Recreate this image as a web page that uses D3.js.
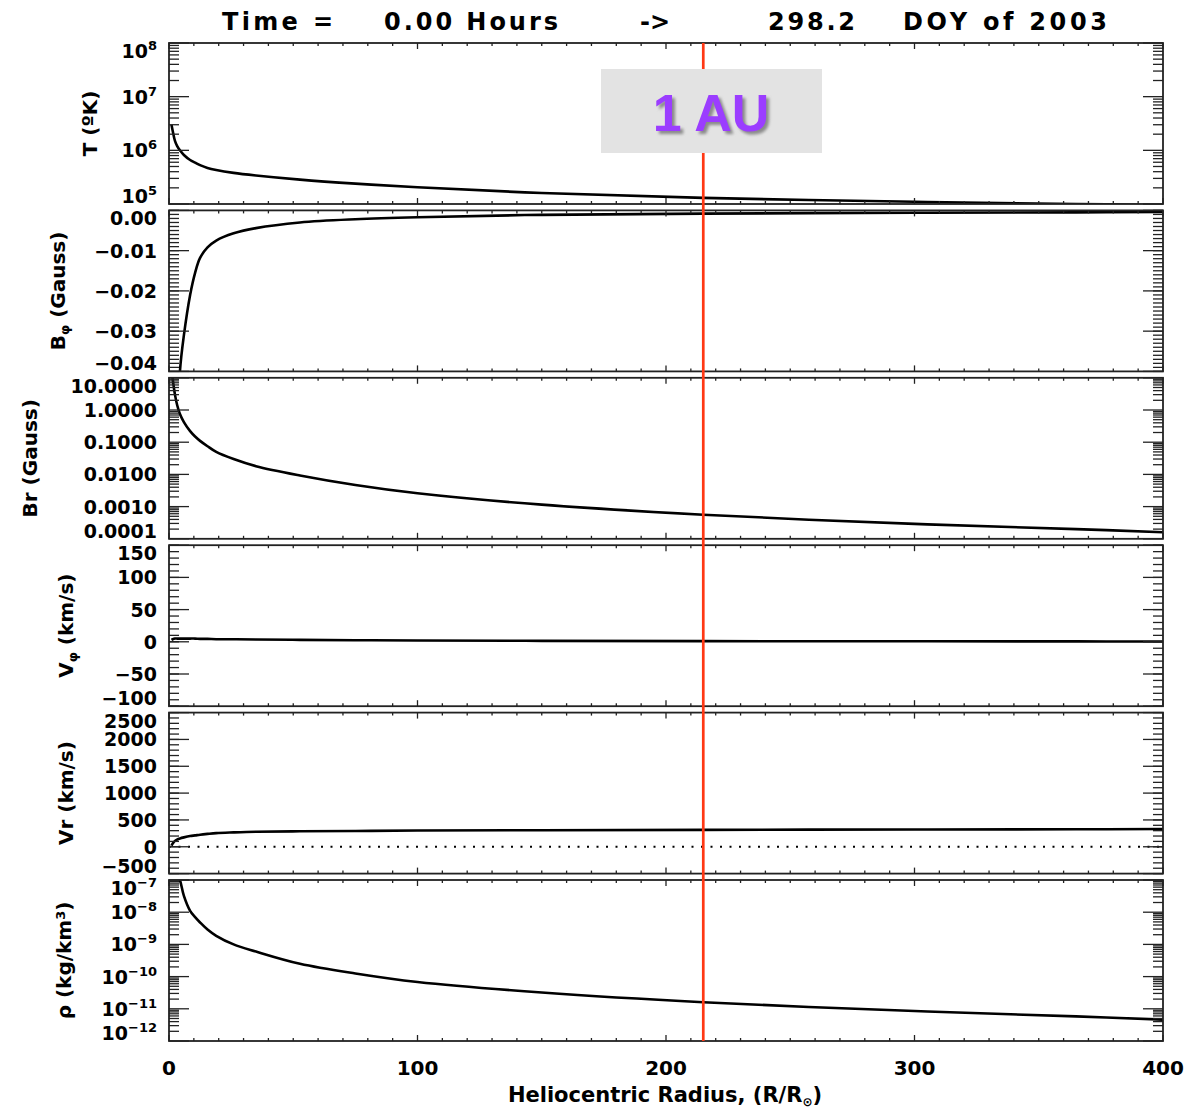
<!DOCTYPE html>
<html>
<head>
<meta charset="utf-8">
<script src="https://cdn.jsdelivr.net/npm/d3@7"></script>
<style>
  body { margin: 0; background: #fff; }
  text { font-family: "DejaVu Sans", sans-serif; font-weight: bold; fill: #000; }
</style>
</head>
<body>
<svg id="chart" width="1186" height="1108"></svg>
<script>
// values, heliocentric radius in solar radii
var radius      = [1, 1.5, 2.4, 3.3, 4.4, 6, 8.5, 10.5, 12.5, 15.5, 19, 26, 35, 52.7, 75, 100, 150, 215, 300, 365, 400];
var temperature = [3.0e6, 2.3e6, 1.5e6, 1.2e6, 1.0e6, 8.2e5, 6.6e5, 5.9e5, 5.3e5, 4.7e5, 4.3e5, 3.8e5, 3.4e5, 2.85e5, 2.4e5, 2.05e5, 1.6e5, 1.3e5, 1.1e5, 1.0e5, 0.95e5];
var bPhi        = [-0.2, -0.15, -0.09, -0.06, -0.040, -0.031, -0.021, -0.0155, -0.0118, -0.0092, -0.0075, -0.0057, -0.0044, -0.0030, -0.0022, -0.0017, -0.0011, -0.0008, -0.0006, -0.0005, -0.0004];
var bRadial     = [20, 9, 3.0, 1.4, 0.75, 0.42, 0.22, 0.15, 0.11, 0.075, 0.05, 0.03, 0.018, 0.0093, 0.0047, 0.0026, 0.00115, 0.00056, 0.00029, 0.0002, 0.00016];
var vPhi        = [3, 4, 5, 5, 5, 5, 5, 5, 4.5, 4.5, 4, 4, 3.5, 3, 2.5, 2, 1.5, 1, 0.8, 0.6, 0.5];
var vRadial     = [20, 60, 110, 135, 155, 175, 200, 212, 225, 240, 255, 268, 280, 288, 295, 302, 308, 315, 322, 326, 330];
var density     = [2e-6, 8e-7, 3e-7, 1.6e-7, 1e-7, 3.2e-8, 1.1e-8, 7e-9, 4.8e-9, 2.9e-9, 1.85e-9, 1.0e-9, 6e-10, 2.5e-10, 1.25e-10, 6.8e-11, 3.2e-11, 1.6e-11, 8.5e-12, 5.8e-12, 4.6e-12];

// tick values and labels
var tTicks      = [1e5, 1e6, 1e7, 1e8];
var tExps       = ["5", "6", "7", "8"];
var bPhiTicks   = [0, -0.01, -0.02, -0.03, -0.04];
var bPhiLabels  = ["0.00", "\u22120.01", "\u22120.02", "\u22120.03", "\u22120.04"];
var brTicks     = [10, 1, 0.1, 0.01, 0.001, 0.0001];
var brLabels    = ["10.0000", "1.0000", "0.1000", "0.0100", "0.0010", "0.0001"];
var vPhiTicks   = [150, 100, 50, 0, -50, -100];
var vPhiLabels  = ["150", "100", "50", "0", "\u221250", "\u2212100"];
var vrTicks     = [2500, 2000, 1500, 1000, 500, 0, -500];
var vrLabels    = ["2500", "2000", "1500", "1000", "500", "0", "\u2212500"];
var rhoTicks    = [1e-7, 1e-8, 1e-9, 1e-10, 1e-11, 1e-12];
var rhoExps     = ["\u22127", "\u22128", "\u22129", "\u221210", "\u221211", "\u221212"];
var xTicks      = [0, 100, 200, 300, 400];
var oneAU       = 215;

var svg = d3.select('#chart');
var left = 169, right = 1163;
var x = d3.scaleLinear().domain([0, 400]).range([left, right]);

function logMinor(lo, hi) {
  var out = [];
  for (var e = Math.round(Math.log10(lo)); e < Math.round(Math.log10(hi)); e++) {
    for (var k = 2; k <= 9; k++) out.push(k * Math.pow(10, e));
  }
  return out;
}
function linMinor(lo, hi, step) {
  return d3.range(Math.round(lo / step), Math.round(hi / step) + 1).map(function(i) { return i * step; });
}

var panels = [
  { values: temperature, scale: d3.scaleLog().domain([1e5, 1e8]), ticks: tTicks, exps: tExps,
    minor: logMinor(1e5, 1e8), title: [["T (\u00baK)"]], titleX: 97 },
  { values: bPhi, scale: d3.scaleLinear().domain([-0.04, 0]), ticks: bPhiTicks, labels: bPhiLabels,
    minor: linMinor(-0.04, 0, 0.001), title: [["B"], ["\u03c6", "sub"], [" (Gauss)"]], titleX: 65 },
  { values: bRadial, scale: d3.scaleLog().domain([1e-4, 10]), ticks: brTicks, labels: brLabels,
    minor: logMinor(1e-4, 10), title: [["Br (Gauss)"]], titleX: 37 },
  { values: vPhi, scale: d3.scaleLinear().domain([-100, 150]), ticks: vPhiTicks, labels: vPhiLabels,
    minor: linMinor(-100, 150, 10), title: [["V"], ["\u03c6", "sub"], [" (km/s)"]], titleX: 73 },
  { values: vRadial, scale: d3.scaleLinear().domain([-500, 2500]), ticks: vrTicks, labels: vrLabels,
    minor: linMinor(-500, 2500, 100), title: [["Vr (km/s)"]], titleX: 73, zeroLine: true },
  { values: density, scale: d3.scaleLog().domain([1e-12, 1e-7]), ticks: rhoTicks, exps: rhoExps,
    minor: logMinor(1e-12, 1e-7), title: [["\u03c1 (kg/km"], ["3", "super"], [")"]], titleX: 71 }
];

var defs = svg.append('defs');
defs.append('filter').attr('id', 'shadow').attr('x', '-20%').attr('y', '-20%').attr('width', '140%').attr('height', '140%')
  .append('feGaussianBlur').attr('stdDeviation', 1.5);

panels.forEach(function(p, i) {
  var top = 43 + i * 167.4, bottom = top + 161;
  var y = p.scale.range([bottom, top]);
  var g = svg.append('g');

  defs.append('clipPath').attr('id', 'clip' + i)
    .append('rect').attr('x', left).attr('y', top).attr('width', right - left).attr('height', bottom - top);

  // zero reference line (dotted)
  if (p.zeroLine) {
    g.append('line').attr('x1', left).attr('x2', right).attr('y1', y(0)).attr('y2', y(0))
      .attr('stroke', '#000').attr('stroke-width', 2).attr('stroke-dasharray', '2,7.5');
  }

  // data curve
  var line = d3.line()
    .x(function(d) { return x(d[0]); })
    .y(function(d) { return y(d[1]); })
    .curve(d3.curveCatmullRom.alpha(0.5));
  g.append('path')
    .datum(radius.map(function(r, k) { return [r, p.values[k]]; }))
    .attr('clip-path', 'url(#clip' + i + ')')
    .attr('d', line)
    .attr('fill', 'none').attr('stroke', '#000').attr('stroke-width', 2.6);

  // y ticks, both sides
  var yt = [];
  p.ticks.forEach(function(v) { yt.push([v, 20]); });
  p.minor.forEach(function(v) { yt.push([v, 10]); });
  yt.forEach(function(t) {
    var yy = y(t[0]);
    g.append('line').attr('x1', left).attr('x2', left + t[1]).attr('y1', yy).attr('y2', yy)
      .attr('stroke', '#222').attr('stroke-width', 1.3);
    g.append('line').attr('x1', right).attr('x2', right - t[1]).attr('y1', yy).attr('y2', yy)
      .attr('stroke', '#222').attr('stroke-width', 1.3);
  });

  // x ticks, top and bottom
  d3.range(0, 401, 10).forEach(function(v) {
    var len = v % 100 === 0 ? 6 : 3;
    g.append('line').attr('x1', x(v)).attr('x2', x(v)).attr('y1', top).attr('y2', top + len)
      .attr('stroke', '#222').attr('stroke-width', 1.3);
    g.append('line').attr('x1', x(v)).attr('x2', x(v)).attr('y1', bottom).attr('y2', bottom - len)
      .attr('stroke', '#222').attr('stroke-width', 1.3);
  });

  // frame
  g.append('rect').attr('x', left).attr('y', top).attr('width', right - left).attr('height', bottom - top)
    .attr('fill', 'none').attr('stroke', '#222').attr('stroke-width', 1.8);

  // tick labels
  p.ticks.forEach(function(v, k) {
    var yy = Math.max(top + 8, Math.min(bottom - 8, y(v)));
    var t = g.append('text').attr('x', 157).attr('y', yy + 7)
      .attr('text-anchor', 'end').style('font-size', '19px');
    if (p.exps) {
      t.append('tspan').text('10');
      t.append('tspan').attr('dy', -8).style('font-size', '13px').text(p.exps[k]);
    } else {
      t.text(p.labels[k]);
    }
  });

  // axis title
  var cy = (top + bottom) / 2;
  var tt = g.append('text')
    .attr('transform', 'translate(' + p.titleX + ',' + cy + ') rotate(-90)')
    .attr('text-anchor', 'middle').style('font-size', '20px');
  p.title.forEach(function(part) {
    var s = tt.append('tspan').text(part[0]);
    if (part[1] === 'sub') s.attr('baseline-shift', '-30%').style('font-size', '13px');
    if (part[1] === 'super') s.attr('baseline-shift', '45%').style('font-size', '13px');
  });
});

// x tick labels and title
xTicks.forEach(function(v) {
  svg.append('text').attr('x', x(v)).attr('y', 1075).attr('text-anchor', 'middle')
    .style('font-size', '20px').text(v);
});
var xt = svg.append('text').attr('x', 665).attr('y', 1102).attr('text-anchor', 'middle').style('font-size', '21px');
xt.append('tspan').text('Heliocentric Radius, (R/R');
xt.append('tspan').attr('baseline-shift', '-30%').style('font-size', '12px').text('\u2299');
xt.append('tspan').text(')');

// title
[["Time =", 222, 111], ["0.00 Hours", 384, 174], ["->", 640, 0], ["298.2", 768, 87], ["DOY of 2003", 903, 204]]
  .forEach(function(d) {
    var t = svg.append('text').attr('x', d[1]).attr('y', 30).style('font-size', '24px').text(d[0]);
    if (d[2]) t.attr('textLength', d[2]).attr('lengthAdjust', 'spacing');
  });

// 1 AU marker
svg.append('line').attr('x1', x(oneAU)).attr('x2', x(oneAU)).attr('y1', 43).attr('y2', 43 + 5 * 167.4 + 161)
  .attr('stroke', '#ff3814').attr('stroke-width', 2.7);
svg.append('rect').attr('x', 601).attr('y', 69).attr('width', 221).attr('height', 84).attr('fill', '#e3e3e3');
svg.append('text').attr('x', 714).attr('y', 134).attr('text-anchor', 'middle')
  .attr('filter', 'url(#shadow)')
  .style('font-family', '"Liberation Sans", Arial, sans-serif').style('font-size', '52px').style('fill', '#8a8a8a')
  .text('1 AU');
svg.append('text').attr('x', 711).attr('y', 131).attr('text-anchor', 'middle')
  .style('font-family', '"Liberation Sans", Arial, sans-serif').style('font-size', '52px').style('fill', '#9b3dff')
  .text('1 AU');
</script>
</body>
</html>
